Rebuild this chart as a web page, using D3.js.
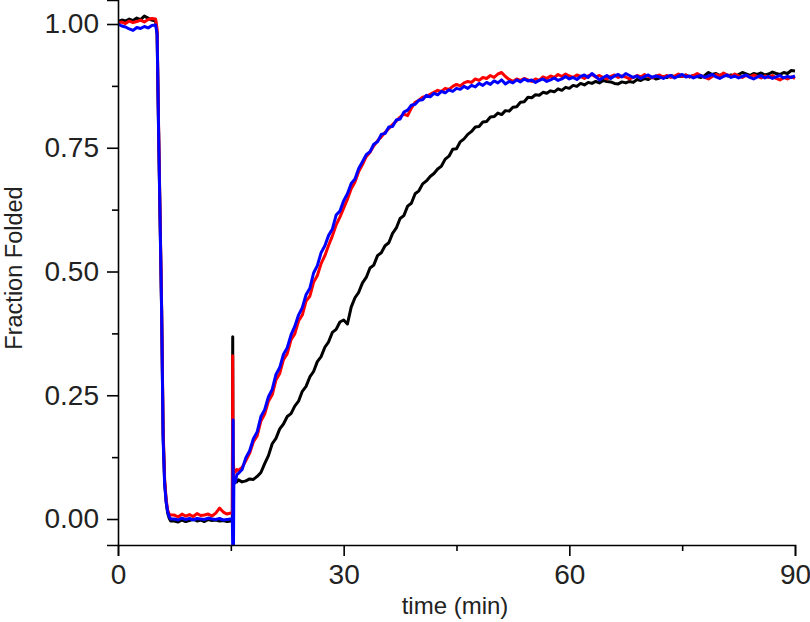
<!DOCTYPE html>
<html><head><meta charset="utf-8">
<script src="https://cdn.jsdelivr.net/npm/d3@7"></script>
<style>body{margin:0;background:#fff}svg{display:block}</style>
</head><body>
<script>
// time points (min)
const timeA = [0,0.5,1,1.5,2,2.5,3,3.5,4,4.5,5,5.2,5.4,5.6,5.8,6.0,6.2,6.4,6.6,6.8,7.0,
  7.5,8,8.5,9,9.5,10,10.5,11,11.5,12,12.5,13,13.5,14,14.5,15,
  15.2,15.25,15.3,15.35,15.4,15.6,15.8];
const timeB = [];
for (let t = 16; t <= 90.001; t += 0.5) timeB.push(+t.toFixed(1));
const time = timeA.concat(timeB);

const blackVals = [1.005,1.008,1.006,1.010,1.007,1.012,1.009,1.016,1.012,1.008,1.006,
  0.98,0.78,0.60,0.42,0.17,0.075,0.035,0.012,0.002,-0.004,
  -0.004,-0.006,-0.002,-0.005,-0.003,0.0,-0.004,-0.002,-0.005,-0.001,-0.003,-0.002,-0.004,-0.003,-0.005,-0.004,
  -0.002,0.368,0.05,0.09,0.08,0.078,0.075,
  0.079,0.075,0.077,0.081,0.080,0.086,0.094,0.112,0.128,0.152,0.163,0.182,0.192,0.207,0.213,0.228,0.238,0.258,0.268,0.287,
  0.298,0.318,0.328,0.347,0.358,0.377,0.383,0.398,0.402,0.394,0.428,0.447,0.458,0.477,0.488,0.507,0.513,0.532,0.538,0.552,
  0.558,0.577,0.588,0.607,0.613,0.632,0.638,0.657,0.663,0.677,0.683,0.692,0.698,0.707,0.713,0.727,0.733,0.747,0.748,0.762,
  0.768,0.777,0.783,0.792,0.793,0.802,0.803,0.812,0.813,0.820,0.817,0.825,0.824,0.832,0.833,0.842,0.843,0.852,0.851,0.857,
  0.856,0.862,0.860,0.865,0.863,0.869,0.866,0.872,0.870,0.876,0.874,0.880,0.877,0.882,0.880,0.884,0.881,0.886,0.884,0.883,
  0.880,0.879,0.883,0.881,0.884,0.882,0.888,0.886,0.890,0.888,0.893,0.889,0.891,0.894,0.892,0.896,0.893,0.895,0.894,0.897,
  0.893,0.896,0.894,0.892,0.896,0.902,0.898,0.900,0.896,0.899,0.895,0.897,0.894,0.898,0.902,0.899,0.896,0.900,0.898,0.901,
  0.897,0.899,0.903,0.900,0.898,0.902,0.900,0.906,0.905];

const redVals = [1.002,1.004,1.001,1.006,1.003,1.005,1.008,1.004,1.009,1.011,1.010,
  0.99,0.79,0.61,0.43,0.18,0.08,0.04,0.018,0.010,0.008,
  0.008,0.004,0.010,0.006,0.009,0.005,0.011,0.007,0.008,0.010,0.006,0.012,0.022,0.014,0.010,0.012,
  0.012,0.33,0.02,0.11,0.10,0.095,0.10,
  0.098,0.104,0.118,0.133,0.156,0.168,0.198,0.212,0.238,0.251,0.281,0.294,0.322,0.334,0.362,0.374,0.400,0.412,0.440,0.450,
  0.478,0.492,0.516,0.532,0.553,0.572,0.594,0.610,0.628,0.646,0.667,0.681,0.702,0.716,0.732,0.741,0.754,0.764,0.772,0.781,
  0.789,0.797,0.804,0.812,0.818,0.815,0.830,0.842,0.846,0.852,0.854,0.858,0.862,0.866,0.864,0.870,0.868,0.874,0.878,0.875,
  0.881,0.884,0.882,0.889,0.886,0.892,0.890,0.896,0.892,0.899,0.902,0.894,0.888,0.884,0.889,0.886,0.890,0.887,0.884,0.889,
  0.886,0.893,0.890,0.895,0.892,0.898,0.894,0.899,0.895,0.892,0.897,0.894,0.890,0.895,0.898,0.893,0.896,0.892,0.889,0.894,
  0.897,0.892,0.895,0.893,0.889,0.892,0.896,0.893,0.898,0.894,0.891,0.895,0.897,0.893,0.896,0.892,0.895,0.899,0.894,0.897,
  0.893,0.896,0.900,0.896,0.892,0.889,0.894,0.898,0.895,0.901,0.897,0.894,0.899,0.895,0.892,0.896,0.893,0.897,0.894,0.891,
  0.895,0.892,0.896,0.890,0.887,0.892,0.889,0.893,0.890];

const blueVals = [1.000,0.996,0.994,0.990,0.987,0.993,0.991,0.995,0.992,0.997,0.998,
  0.98,0.78,0.60,0.42,0.16,0.07,0.035,0.015,0.005,0.0,
  0.0,-0.002,0.002,-0.001,0.001,-0.002,0.001,0.0,-0.001,0.002,0.0,-0.001,0.001,-0.002,-0.001,0.0,
  0.0,-0.06,0.2,-0.06,0.07,0.075,0.09,
  0.092,0.100,0.124,0.138,0.162,0.176,0.207,0.221,0.247,0.262,0.292,0.306,0.333,0.346,0.372,0.389,0.412,0.427,0.453,0.466,
  0.497,0.512,0.538,0.552,0.573,0.586,0.614,0.622,0.643,0.657,0.678,0.687,0.708,0.722,0.736,0.742,0.757,0.762,0.777,0.779,
  0.792,0.793,0.806,0.808,0.822,0.826,0.836,0.838,0.846,0.847,0.856,0.853,0.860,0.857,0.864,0.861,0.867,0.864,0.870,0.868,
  0.874,0.870,0.876,0.873,0.880,0.876,0.882,0.878,0.885,0.881,0.887,0.879,0.884,0.881,0.887,0.883,0.889,0.885,0.887,0.882,
  0.886,0.889,0.884,0.887,0.891,0.886,0.889,0.894,0.889,0.892,0.888,0.894,0.897,0.892,0.900,0.894,0.887,0.892,0.896,0.890,
  0.895,0.898,0.893,0.900,0.896,0.892,0.895,0.890,0.894,0.897,0.892,0.895,0.893,0.890,0.894,0.896,0.891,0.895,0.898,0.893,
  0.895,0.891,0.894,0.896,0.892,0.895,0.898,0.893,0.890,0.894,0.897,0.892,0.895,0.891,0.894,0.897,0.892,0.889,0.893,0.896,
  0.891,0.894,0.890,0.893,0.896,0.891,0.894,0.892,0.895];

const xTicks = [0,30,60,90];
const xMinor = [15,45,75];
const yTicks = [0,0.25,0.5,0.75,1.0];
const yMinor = [0.125,0.375,0.625,0.875];

const W = 810, H = 622;
const mLeft = 118, mRight = 795, mTop = 0, mBottom = 545;
const x = d3.scaleLinear().domain([0,90]).range([mLeft,mRight]);
const y = d3.scaleLinear().domain([-0.0525,1.0485]).range([mBottom,mTop]);

const svg = d3.select("body").append("svg").attr("width",W).attr("height",H);
svg.append("defs").append("clipPath").attr("id","clip")
  .append("rect").attr("x",mLeft).attr("y",mTop).attr("width",mRight-mLeft+4).attr("height",mBottom-mTop);

const font = "'Liberation Sans', Arial, Helvetica, sans-serif";

const series = [
  {vals: blackVals, color: "#000000"},
  {vals: redVals, color: "#ff0000"},
  {vals: blueVals, color: "#0000ff"}
];
const line = d3.line().defined(d => d[1] != null && !isNaN(d[1])).x(d => x(d[0])).y(d => y(d[1]));
const plot = svg.append("g").attr("clip-path","url(#clip)");
series.forEach(s => {
  plot.append("path").datum(time.map((t,i) => [t, s.vals[i]]))
    .attr("d", line).attr("fill","none").attr("stroke", s.color)
    .attr("stroke-width", 3).attr("stroke-linejoin","round");
});

// axes
svg.append("g").attr("transform",`translate(0,${mBottom})`)
  .call(d3.axisBottom(x).tickValues(xTicks).tickSize(11).tickPadding(8).tickFormat(d3.format("d")));
svg.append("g").attr("transform",`translate(0,${mBottom})`)
  .call(d3.axisBottom(x).tickValues(xMinor).tickSize(6).tickFormat(""))
  .call(g => g.select(".domain").remove());
svg.append("g").attr("transform",`translate(${mLeft},0)`)
  .call(d3.axisLeft(y).tickValues(yTicks).tickSize(11).tickPadding(8).tickFormat(d3.format(".2f")));
svg.append("g").attr("transform",`translate(${mLeft},0)`)
  .call(d3.axisLeft(y).tickValues(yMinor).tickSize(6).tickFormat(""))
  .call(g => g.select(".domain").remove());

svg.selectAll(".domain").attr("stroke","#000").attr("stroke-width",1.6);
svg.selectAll(".tick line").attr("stroke","#000").attr("stroke-width",1.6);
svg.selectAll(".tick text").attr("font-family",font).attr("font-size",28).attr("fill","#222");

svg.append("text").attr("x",455).attr("y",614).attr("text-anchor","middle")
  .attr("font-family",font).attr("font-size",24).attr("fill","#222").text("time (min)");
svg.append("text").attr("transform","translate(22,268) rotate(-90)").attr("text-anchor","middle")
  .attr("font-family",font).attr("font-size",23.5).attr("fill","#222").text("Fraction Folded");
</script>
</body></html>
